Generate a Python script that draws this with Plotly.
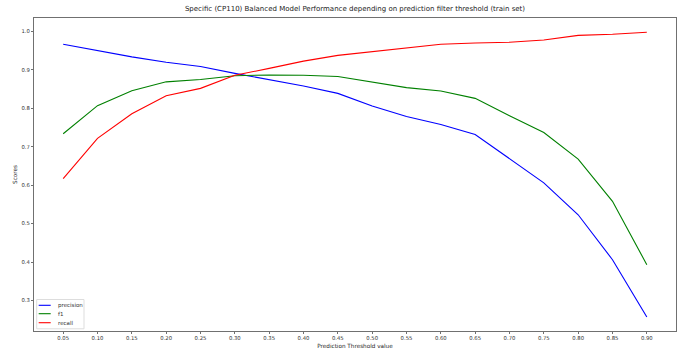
import plotly.graph_objects as go

thresholds = [0.05, 0.10, 0.15, 0.20, 0.25, 0.30, 0.35, 0.40, 0.45,
              0.50, 0.55, 0.60, 0.65, 0.70, 0.75, 0.80, 0.85, 0.90]
precision = [0.967, 0.951, 0.934, 0.920, 0.909, 0.891, 0.875, 0.858, 0.839,
             0.806, 0.779, 0.758, 0.732, 0.668, 0.606, 0.523, 0.406, 0.257]
f1 = [0.734, 0.807, 0.846, 0.869, 0.875, 0.885, 0.887, 0.886, 0.883,
      0.869, 0.854, 0.845, 0.826, 0.781, 0.737, 0.668, 0.558, 0.393]
recall = [0.617, 0.722, 0.786, 0.833, 0.852, 0.886, 0.904, 0.923, 0.938,
          0.948, 0.957, 0.967, 0.970, 0.972, 0.978, 0.990, 0.993, 0.998]
series_names = ["precision", "f1", "recall"]
series_colors = ["#0000ff", "#008000", "#ff0000"]
tick_labels = [f"{t:.2f}" for t in thresholds]
y_ticks = [0.3, 0.4, 0.5, 0.6, 0.7, 0.8, 0.9, 1.0]
y_tick_labels = [f"{v:.1f}" for v in y_ticks]

FONT = "DejaVu Sans"
fig = go.Figure()
for name, vals, col in zip(series_names, [precision, f1, recall], series_colors):
    fig.add_trace(go.Scatter(x=thresholds, y=vals, mode="lines", name=name,
                             line=dict(color=col, width=1.1), showlegend=False))

axis_common = dict(showline=True, linecolor="#707070", linewidth=1, mirror=True,
                   ticks="outside", ticklen=2, tickcolor="#707070", tickwidth=1,
                   showgrid=False, zeroline=False,
                   tickfont=dict(family=FONT, size=5.3, color="#333333"))

# compact legend box (lower-left, inside plot)
shapes = [dict(type="rect", xref="paper", yref="paper", x0=0.0042, x1=0.0779,
               y0=0.007, y1=0.1006, line=dict(color="#dddddd", width=1),
               fillcolor="rgba(255,255,255,0.8)", layer="above")]
annotations = []
entry_y = [0.0821, 0.0553, 0.0265]
for name, col, yy in zip(series_names, series_colors, entry_y):
    shapes.append(dict(type="line", xref="paper", yref="paper", x0=0.0073, x1=0.0260,
                       y0=yy, y1=yy, line=dict(color=col, width=1.1), layer="above"))
    annotations.append(dict(text=name, xref="paper", yref="paper", x=0.0338, y=yy,
                            xanchor="left", yanchor="middle", showarrow=False,
                            font=dict(family=FONT, size=5.5, color="#333333")))

fig.update_layout(
    width=680, height=352,
    margin=dict(l=34, r=4, t=18, b=21),
    paper_bgcolor="white", plot_bgcolor="white",
    title=dict(text="Specific (CP110) Balanced Model Performance depending on prediction filter threshold (train set)",
               x=0.5, xref="paper", xanchor="center", y=1, yref="container", yanchor="top", pad=dict(t=6),
               font=dict(family=FONT, size=7, color="#222222")),
    xaxis=dict(range=[0.0075, 0.9425], tickmode="array", tickvals=thresholds,
               ticktext=tick_labels,
               title=dict(text="Prediction Threshold value", standoff=3,
                          font=dict(family=FONT, size=5.7, color="#222222")),
               **axis_common),
    yaxis=dict(range=[0.2204, 1.0352], tickmode="array",
               tickvals=y_ticks, ticktext=y_tick_labels,
               title=dict(text="Scores", standoff=3,
                          font=dict(family=FONT, size=5.7, color="#222222")),
               **axis_common),
    shapes=shapes,
    annotations=annotations,
    showlegend=False,
)

fig.write_html("out.html")
